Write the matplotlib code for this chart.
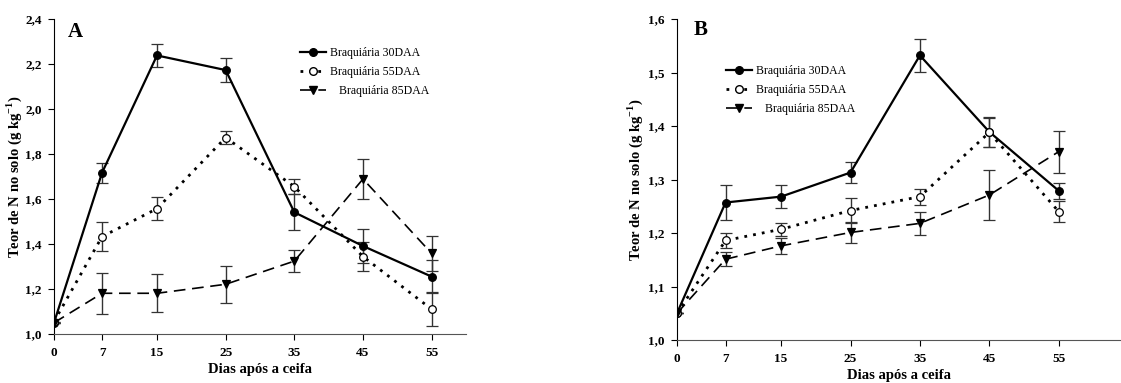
import matplotlib
matplotlib.use("Agg")
import matplotlib.pyplot as plt
from matplotlib.lines import Line2D

plt.rcParams['font.family'] = ['Liberation Serif', 'DejaVu Serif']
plt.rcParams['mathtext.fontset'] = 'custom'
plt.rcParams['mathtext.rm'] = 'Liberation Serif:bold'
plt.rcParams['mathtext.bf'] = 'Liberation Serif:bold'

# === Data ===
days = [0, 7, 15, 25, 35, 45, 55]
labels = ['Braquiária 30DAA', 'Braquiária 55DAA', '   Braquiária 85DAA']

# Panel A
a_30 = [1.05, 1.717, 2.238, 2.173, 1.541, 1.391, 1.255]
a_30_err = [0, 0.045, 0.05, 0.055, 0.08, 0.076, 0.072]
a_55 = [1.055, 1.433, 1.557, 1.873, 1.655, 1.344, 1.11]
a_55_err = [0, 0.063, 0.051, 0.03, 0.032, 0.066, 0.076]
a_85 = [1.05, 1.181, 1.181, 1.221, 1.324, 1.689, 1.358]
a_85_err = [0, 0.09, 0.085, 0.082, 0.048, 0.087, 0.076]

# Panel B
b_30 = [1.05, 1.257, 1.268, 1.313, 1.532, 1.389, 1.279]
b_30_err = [0, 0.032, 0.022, 0.02, 0.031, 0.028, 0.015]
b_55 = [1.05, 1.186, 1.207, 1.242, 1.268, 1.388, 1.24]
b_55_err = [0, 0.014, 0.012, 0.023, 0.015, 0.027, 0.02]
b_85 = [1.05, 1.151, 1.176, 1.201, 1.218, 1.271, 1.352]
b_85_err = [0, 0.013, 0.015, 0.02, 0.021, 0.046, 0.039]

a_yticks = [1.0, 1.2, 1.4, 1.6, 1.8, 2.0, 2.2, 2.4]
a_yticklabels = ['1,0', '1,2', '1,4', '1,6', '1,8', '2,0', '2,2', '2,4']
b_yticks = [1.0, 1.1, 1.2, 1.3, 1.4, 1.5, 1.6]
b_yticklabels = ['1,0', '1,1', '1,2', '1,3', '1,4', '1,5', '1,6']

# === Styles ===
styles = [
    dict(linestyle='-', marker='o', mfc='black', lw=1.6),
    dict(linestyle=(0, (1, 2.2)), marker='o', mfc='white', lw=2.0),
    dict(linestyle=(0, (7, 4)), marker='v', mfc='black', lw=1.2),
]

W, H = 1121, 383
fig = plt.figure(figsize=(W / 100, H / 100), dpi=100)


def panel(rect, series, yticks, yticklabels, ylim, xmax, letter, letter_xy,
          leg_anchor, ylabel_x, xlabelpad):
    ax = fig.add_axes(rect)
    for (vals, err), st in zip(series, styles):
        ax.errorbar(days, vals, yerr=err, color='black', ecolor='#333333',
                    elinewidth=1.0, capsize=4, capthick=1.0,
                    linestyle=st['linestyle'], lw=st['lw'],
                    marker=st['marker'], markersize=5.5,
                    markerfacecolor=st['mfc'], markeredgecolor='black',
                    markeredgewidth=0.9)
    ax.set_xlim(0, xmax)
    ax.set_ylim(*ylim)
    ax.set_xticks(days)
    ax.set_xticklabels([str(d) for d in days], fontweight='bold', fontsize=9.5)
    ax.set_yticks(yticks)
    ax.set_yticklabels(yticklabels, fontweight='bold', fontsize=9.5)
    for s in ['top', 'right']:
        ax.spines[s].set_visible(False)
    ax.spines['left'].set_color('black')
    ax.spines['bottom'].set_color('#555555')
    ax.tick_params(direction='out', length=4, width=0.8, pad=5)
    ax.set_xlabel('Dias após a ceifa', fontweight='bold', fontsize=10.5,
                  labelpad=xlabelpad)
    ax.set_ylabel(r'Teor de N no solo (g kg$^{-1}$)', fontweight='bold', fontsize=10.5)
    ax.yaxis.set_label_coords(ylabel_x, 0.5)
    ax.text(letter_xy[0], letter_xy[1], letter, transform=ax.transAxes,
            fontsize=15, fontweight='bold', va='center', ha='left')
    hs = [Line2D([0], [0], color='black', linestyle=st['linestyle'], lw=st['lw'],
                 marker=st['marker'], markersize=5.5, markerfacecolor=st['mfc'],
                 markeredgecolor='black') for st in styles]
    ax.legend(hs, labels, loc='upper left', bbox_to_anchor=leg_anchor,
              frameon=False, fontsize=8.5, handlelength=2.2, handletextpad=0.35,
              labelspacing=0.58, borderaxespad=0)
    return ax


panel([54 / W, (H - 334) / H, 412 / W, 315 / H],
      [(a_30, a_30_err), (a_55, a_55_err), (a_85, a_85_err)],
      a_yticks, a_yticklabels, (1.0, 2.4), 60, 'A', (0.034, 0.959),
      (0.585, 0.925), -0.072, 3)

panel([677 / W, (H - 340) / H, 444 / W, 321 / H],
      [(b_30, b_30_err), (b_55, b_55_err), (b_85, b_85_err)],
      b_yticks, b_yticklabels, (1.0, 1.6), 444 / 6.94, 'B', (0.038, 0.966),
      (0.1, 0.87), -0.072, 3)

fig.savefig('out.png', dpi=100)
